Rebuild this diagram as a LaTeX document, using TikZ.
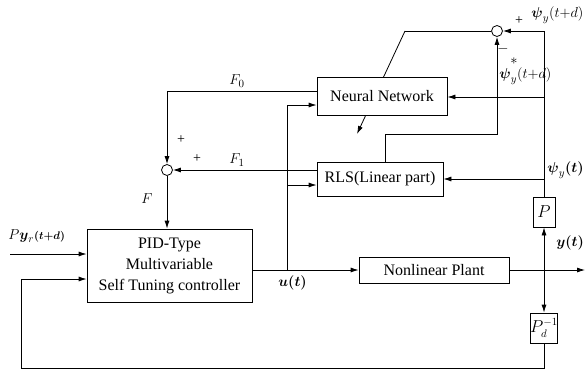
\documentclass[tikz,border=0pt]{standalone}
\usepackage{fontspec}
\setmainfont{Liberation Serif}
\usepackage{amsmath}
\usetikzlibrary{arrows.meta,calc}
\begin{document}
\begin{tikzpicture}[x=1pt,y=-1pt,
  line width=0.8pt,
  arr/.style={-{Latex[length=8pt,width=5pt]}},
  blk/.style={draw,fill=white,inner sep=0pt,font=\fontsize{16}{21}\selectfont},
  sumnode/.style={draw,circle,fill=white,inner sep=0pt,minimum size=11pt},
  lab/.style={inner sep=0pt,font=\fontsize{15}{17}\selectfont},
  sgn/.style={inner sep=0pt,font=\fontsize{14}{16}\selectfont}]
\useasboundingbox (0,0) rectangle (588,372);
% adaptation line through the neural network
\coordinate (ea) at (405,31);
\coordinate (eb) at (357,134);
\draw[arr] (ea) -- (eb);
% blocks
\node[blk, minimum width=130pt, minimum height=38pt] (nn) at (382,96) {Neural Network};
\node[blk, minimum width=126pt, minimum height=34pt] (rls) at (380,179) {RLS(Linear part)};
\node[blk, minimum width=150pt, minimum height=26pt] (plant) at (434,270) {Nonlinear Plant};
\node[blk, minimum width=165pt, minimum height=73pt, align=center] (ctrl) at (169.5,265.5) {PID-Type\\Multivariable\\Self Tuning controller};
\node[blk, minimum width=22pt, minimum height=30pt] (P) at (544,212) {$P$};
\node[blk, minimum width=22pt, minimum height=30pt] (Pd) at (544,328) {$P_d^{-1}$};
\node[sumnode] (s1) at (167,170) {};
\node[sumnode] (s2) at (497,31) {};
% coordinates
\coordinate (top) at (544,31);
\coordinate (jy) at (544,270);
\coordinate (bot) at (544,368);
\coordinate (fl) at (21,368);
\coordinate (fb) at (21,279);
\coordinate (n1) at (544,97);
\coordinate (r1) at (544,179);
\coordinate (yout) at (585,270);
\coordinate (ub) at (287,270);
\coordinate (ut) at (287,105);
\coordinate (ur) at (287,185);
\coordinate (f1) at (300,170);
\coordinate (f0) at (167,91);
\coordinate (ps) at (385,134);
\coordinate (py) at (10,254);
% connectors
\draw[arr] (top) -- (s2);
\draw (top) -- (P.north);
\draw[arr] (jy) -- (P.south);
\draw[arr] (jy) -- (Pd.north);
\draw[arr] (Pd.south) -- (bot) -- (fl) -- (fb) -- (fb -| ctrl.west);
\draw[arr] (n1) -- (n1 -| nn.east);
\draw[arr] (r1) -- (r1 -| rls.east);
\draw[arr] (plant.east) -- (yout);
\draw[arr] (ctrl.east |- plant.west) -- (plant.west);
\draw[arr] (ub) -- (ut) -- (ut -| nn.west);
\draw[arr] (ur) -- (ur -| rls.west);
\draw[arr] (f1 -| rls.west) -- (s1.east);
\draw[arr] (f0 -| nn.west) -- (f0) -- (s1.north);
\draw[arr] (s1.south) -- (s1.south |- ctrl.north);
\draw[arr] (ps |- rls.north) -- (ps) -- (ps -| s2) -- (s2.south);
\draw (s2.west) -- (ea);
\draw[arr] (py) -- (py -| ctrl.west);
% labels
\node[lab] (lf0) at (237,81) {$F_0$};
\node[lab] (lf1) at (237,160) {$F_1$};
\node[lab] (lf) at (147,199) {$F$};
\node[sgn] (p1) at (181,140) {+};
\node[sgn] (p2) at (197,159) {+};
\node[sgn] (p3) at (519,21) {+};
\node[sgn] (m1) at (503,49) {$-$};
\node[sgn] (st) at (514,61) {$*$};
\node[lab, anchor=west] (lpy) at (8,236) {$P\boldsymbol{y}_{r}{\scriptstyle\boldsymbol{(t+d)}}$};
\node[lab, anchor=west] (lu) at (278,283) {$\boldsymbol{u(t)}$};
\node[lab, anchor=west] (ly) at (556,243) {$\boldsymbol{y(t)}$};
\node[lab, anchor=west] (lpt) at (547,170) {$\boldsymbol{\psi}_{y}\boldsymbol{(t)}$};
\node[lab, anchor=west] (lptd) at (531,15) {$\boldsymbol{\psi}_{y}(t{+}d)$};
\node[lab, anchor=west] (lpsd) at (499,76) {$\boldsymbol{\psi}_{y}(t{+}d)$};
\end{tikzpicture}
\end{document}
